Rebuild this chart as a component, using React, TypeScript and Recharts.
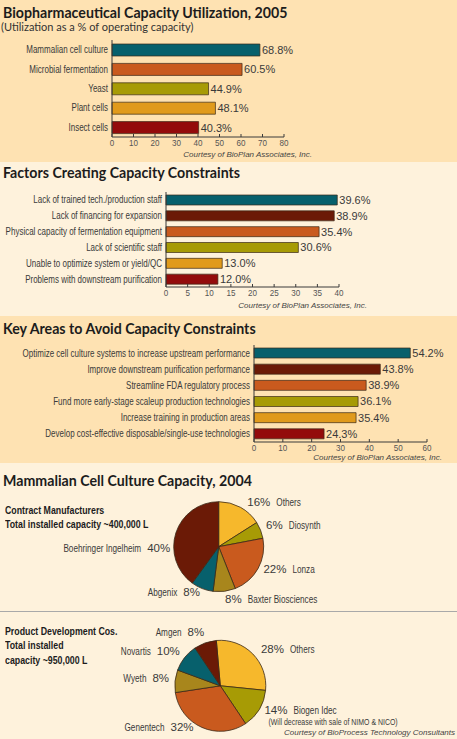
import React from "react";
import { BarChart, Bar, XAxis, YAxis, LabelList, Cell, PieChart, Pie } from "recharts";

// ---- data ----
const utilCategories = ["Mammalian cell culture", "Microbial fermentation", "Yeast", "Plant cells", "Insect cells"];
const utilValues = [68.8, 60.5, 44.9, 48.1, 40.3];
const utilTicks = [0, 10, 20, 30, 40, 50, 60, 70, 80];

const factorCategories = [
    "Lack of trained tech./production staff",
    "Lack of financing for expansion",
    "Physical capacity of fermentation equipment",
    "Lack of scientific staff",
    "Unable to optimize system or yield/QC",
    "Problems with downstream purification"
];
const factorValues = [39.6, 38.9, 35.4, 30.6, 13.0, 12.0];
const factorTicks = [0, 5, 10, 15, 20, 25, 30, 35, 40];

const areaCategories = [
    "Optimize cell culture systems to increase upstream performance",
    "Improve downstream purification performance",
    "Streamline FDA regulatory process",
    "Fund more early-stage scaleup production technologies",
    "Increase training in production areas",
    "Develop cost-effective disposable/single-use technologies"
];
const areaValues = [54.2, 43.8, 38.9, 36.1, 35.4, 24.3];
const areaTicks = [0, 10, 20, 30, 40, 50, 60];

const cmoNames = ["Others", "Diosynth", "Lonza", "Baxter Biosciences", "Abgenix", "Boehringer Ingelheim"];
const cmoShares = [16, 6, 22, 8, 8, 40];

const pdNames = ["Others", "Biogen Idec", "Genentech", "Wyeth", "Novartis", "Amgen"];
const pdShares = [28, 14, 32, 8, 10, 8];
const pdNotes: Record<string, string> = { "Biogen Idec": "(Will decrease with sale of NIMO & NICO)" };

// ---- styles ----
const TEAL = "#07606c";
const ORANGE = "#c95a1e";
const OLIVE = "#a79b05";
const GOLD = "#e09a1c";
const RED = "#930b0b";
const BROWN = "#6b1a06";
const YELLOW = "#f6b82c";
const KHAKI = "#a8861c";
const PEACH = "#fee2b2";
const CREAM = "#fef2dc";
const INK = "#3a3a3a";
const EDGE = "#3b2a18";

const PLAIN = '"Liberation Sans", Arial, sans-serif';
const TITLE = 'Lato, "Open Sans", sans-serif';
const SQUEEZE = 0.8; // Liberation Sans squeezed to look like a narrow face

const utilColors = [TEAL, ORANGE, OLIVE, GOLD, RED];
const factorColors = [TEAL, BROWN, ORANGE, OLIVE, GOLD, RED];
const pieColors = [YELLOW, OLIVE, ORANGE, KHAKI, TEAL, BROWN];

// label nudges [dx, dy] where the original hand-placed a pie label
const cmoNudge: Record<string, number[]> = {
    Others: [4, 2],
    "Baxter Biosciences": [0, 4],
    "Boehringer Ingelheim": [0, 20]
};
const pdNudge: Record<string, number[]> = {
    Others: [4, 2],
    Genentech: [-6, -3],
    Amgen: [1, -3]
};

// rough Arial advance widths, used only to place the name after the percentage
const pctWidth = (s: string, size: number) =>
    s.split("").reduce((w, c) => w + (c === "%" ? 0.889 : 0.556), 0) * size;

const XTick = (props: any) => {
    const { x, y, payload } = props;
    return (
        <g>
            <line x1={x} x2={x} y1={y - 3} y2={y} stroke={INK} strokeWidth={1} />
            <text transform={`translate(${x},${y + 8.5}) scale(0.85,1)`} textAnchor="middle"
                fontSize={9.5} fontFamily={PLAIN} fill="#555">
                {payload.value}
            </text>
        </g>
    );
};

const YTick = (props: any) => {
    const { x, y, payload } = props;
    return (
        <text transform={`translate(${x},${y + 3.5}) scale(${SQUEEZE},1)`} textAnchor="end"
            fontSize={10} fontFamily={PLAIN} fill={INK}>
            {payload.value}
        </text>
    );
};

function HBar({ categories, values, colors, ticks, height, axisWidth, top, right, axisHeight, barSize }: any) {
    const data = categories.map((name: string, i: number) => ({ name, value: values[i] }));
    return (
        <BarChart
            layout="vertical"
            width={457}
            height={height}
            data={data}
            margin={{ top, right, bottom: 0, left: 0 }}
        >
            <XAxis
                type="number"
                domain={[0, ticks[ticks.length - 1]]}
                ticks={ticks}
                interval={0}
                height={axisHeight}
                axisLine={{ stroke: INK }}
                tickLine={false}
                tickSize={0}
                tickMargin={0}
                tick={<XTick />}
            />
            <YAxis
                type="category"
                dataKey="name"
                width={axisWidth}
                interval={0}
                axisLine={{ stroke: INK }}
                tickLine={false}
                tickSize={0}
                tickMargin={4}
                tick={<YTick />}
            />
            <Bar dataKey="value" barSize={barSize} stroke={EDGE} strokeWidth={0.7} isAnimationActive={false}>
                {data.map((d: any, i: number) => (
                    <Cell key={d.name} fill={colors[i]} />
                ))}
                <LabelList
                    dataKey="value"
                    position="right"
                    offset={2}
                    formatter={(v: any) => `${Number(v).toFixed(1)}%`}
                    fontSize={11}
                    fontFamily={PLAIN}
                    fill={INK}
                />
            </Bar>
        </BarChart>
    );
}

const RADIAN = Math.PI / 180;

const pieLabel = (nudge: Record<string, number[]>) => (props: any) => {
    const { cx, cy, midAngle, outerRadius, payload } = props;
    const name = payload.name;
    const [dx, dy] = nudge[name] ?? [0, 0];
    const r = outerRadius + 6;
    const x = cx + r * Math.cos(-midAngle * RADIAN) + dx;
    const y = cy + r * Math.sin(-midAngle * RADIAN) + dy + 1.5;
    const right = x >= cx;
    const pct = `${payload.value}%`;
    const pw = pctWidth(pct, 11.5) + 6;
    const note = pdNotes[name];
    return (
        <g>
            <text x={x} y={y} textAnchor={right ? "start" : "end"} fontSize={11.5} fontFamily={PLAIN} fill={INK}>
                {pct}
            </text>
            <text transform={`translate(${right ? x + pw : x - pw},${y}) scale(0.82,1)`}
                textAnchor={right ? "start" : "end"} fontSize={10} fontFamily={PLAIN} fill={INK}>
                {name}
            </text>
            {note && (
                <text transform={`translate(${x + 4},${y + 11}) scale(0.82,1)`} fontSize={8.5}
                    fontFamily={PLAIN} fill={INK}>
                    {note}
                </text>
            )}
        </g>
    );
};

const abs = (top: number, extra: React.CSSProperties = {}): React.CSSProperties => ({
    position: "absolute",
    top,
    whiteSpace: "nowrap",
    ...extra
});

const titleStyle: React.CSSProperties = {
    left: 3,
    fontFamily: TITLE,
    fontWeight: 700,
    fontSize: 14.2,
    lineHeight: "16px",
    color: "#1c1c1c"
};

const courtesyStyle: React.CSSProperties = {
    fontFamily: PLAIN,
    fontStyle: "italic",
    fontSize: 8,
    lineHeight: "10px",
    color: "#444"
};

const blockStyle: React.CSSProperties = {
    left: 5,
    fontFamily: PLAIN,
    fontWeight: 700,
    fontSize: 11,
    lineHeight: "14.5px",
    color: "#1c1c1c",
    transform: "scaleX(0.8)",
    transformOrigin: "0 0"
};

export default function App() {
    const cmoData = cmoNames.map((name, i) => ({ name, value: cmoShares[i] }));
    const pdData = pdNames.map((name, i) => ({ name, value: pdShares[i] }));

    return (
        <div style={{ position: "absolute", left: 0, top: 0, width: 457, height: 739, overflow: "hidden", background: CREAM }}>
            {/* section backgrounds */}
            <div style={{ position: "absolute", left: 0, top: 0, width: 457, height: 162, background: PEACH }} />
            <div style={{ position: "absolute", left: 0, top: 162, width: 457, height: 154, background: CREAM }} />
            <div style={{ position: "absolute", left: 0, top: 316, width: 457, height: 147, background: PEACH }} />
            <div style={{ position: "absolute", left: 0, top: 610.5, width: 457, height: 1, background: "#a9a9a9" }} />

            {/* chart 1 */}
            <div style={abs(0, { left: 0 })}>
                <HBar categories={utilCategories} values={utilValues} colors={utilColors} ticks={utilTicks}
                    height={162} axisWidth={112} top={40} right={173} axisHeight={25} barSize={12} />
            </div>
            <div style={abs(5, titleStyle)}>Biopharmaceutical Capacity Utilization, 2005</div>
            <div style={abs(20.5, { left: 1, fontFamily: TITLE, fontSize: 11, lineHeight: "12px", color: "#333" })}>
                (Utilization as a % of operating capacity)
            </div>
            <div style={abs(150, { ...courtesyStyle, right: 145 })}>Courtesy of BioPlan Associates, Inc.</div>

            {/* chart 2 */}
            <div style={abs(162, { left: 0 })}>
                <HBar categories={factorCategories} values={factorValues} colors={factorColors} ticks={factorTicks}
                    height={154} axisWidth={166} top={30} right={118} axisHeight={29} barSize={10} />
            </div>
            <div style={abs(165.4, titleStyle)}>Factors Creating Capacity Constraints</div>
            <div style={abs(301, { ...courtesyStyle, right: 90 })}>Courtesy of BioPlan Associates, Inc.</div>

            {/* chart 3 */}
            <div style={abs(316, { left: 0 })}>
                <HBar categories={areaCategories} values={areaValues} colors={factorColors} ticks={areaTicks}
                    height={147} axisWidth={254} top={29} right={30} axisHeight={21} barSize={10} />
            </div>
            <div style={abs(320.5, titleStyle)}>Key Areas to Avoid Capacity Constraints</div>
            <div style={abs(453, { ...courtesyStyle, right: 15 })}>Courtesy of BioPlan Associates, Inc.</div>

            {/* pies */}
            <div style={abs(463, { left: 0 })}>
                <PieChart width={457} height={276}>
                    <Pie
                        data={cmoData}
                        dataKey="value"
                        nameKey="name"
                        cx={213.7}
                        cy={78.7}
                        outerRadius={45}
                        startAngle={90}
                        endAngle={-270}
                        stroke={EDGE}
                        strokeWidth={0.8}
                        labelLine={false}
                        label={pieLabel(cmoNudge)}
                        isAnimationActive={false}
                    >
                        {cmoData.map((d, i) => (
                            <Cell key={d.name} fill={pieColors[i]} />
                        ))}
                    </Pie>
                    <Pie
                        data={pdData}
                        dataKey="value"
                        nameKey="name"
                        cx={215.3}
                        cy={217.8}
                        outerRadius={45.5}
                        startAngle={95}
                        endAngle={-265}
                        stroke={EDGE}
                        strokeWidth={0.8}
                        labelLine={false}
                        label={pieLabel(pdNudge)}
                        isAnimationActive={false}
                    >
                        {pdData.map((d, i) => (
                            <Cell key={d.name} fill={pieColors[i]} />
                        ))}
                    </Pie>
                </PieChart>
            </div>
            <div style={abs(473, titleStyle)}>Mammalian Cell Culture Capacity, 2004</div>
            <div style={abs(502.5, blockStyle)}>
                Contract Manufacturers
                <br />
                Total installed capacity ~400,000 L
            </div>
            <div style={abs(623.8, blockStyle)}>
                Product Development Cos.
                <br />
                Total installed
                <br />
                capacity ~950,000 L
            </div>
            <div style={abs(728, { ...courtesyStyle, right: 2 })}>Courtesy of BioProcess Technology Consultants</div>
        </div>
    );
}
